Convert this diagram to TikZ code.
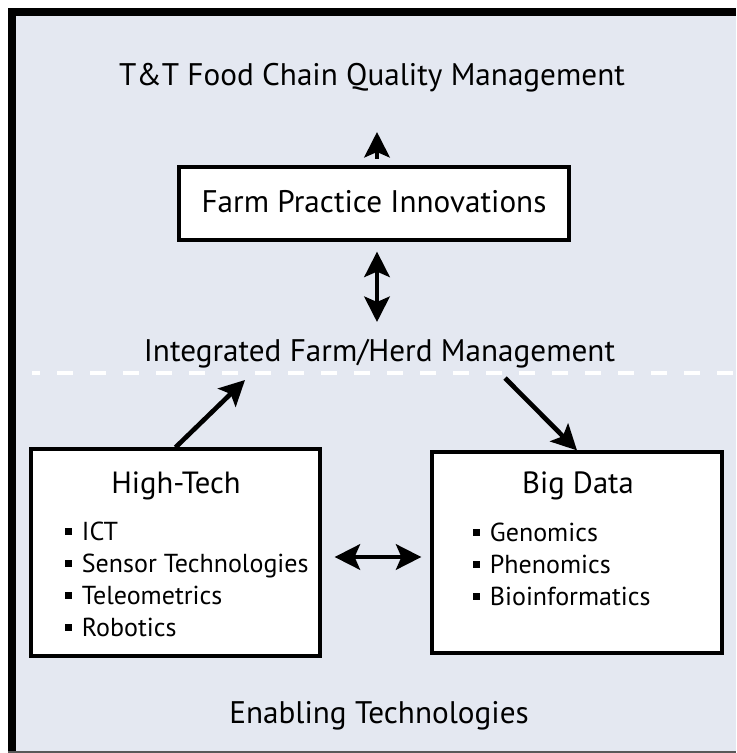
\documentclass[tikz,border=0pt]{standalone}
\usepackage{fontspec}
\setmainfont{PT Sans}
\usetikzlibrary{arrows.meta}
\usetikzlibrary{positioning}
\definecolor{panelfill}{RGB}{228,232,241}
\tikzset{
	% one picture unit is one pixel of the 736x753 layout
	px/.style={x=0.75pt, y=-0.75pt},
	bigarrow/.style={draw=black, line width=3.5pt,
		-{Stealth[length=19pt, width=19pt, inset=4pt]}},
	bigdouble/.style={draw=black, line width=3.5pt,
		{Stealth[length=19pt, width=19pt, inset=4pt]}-{Stealth[length=19pt, width=19pt, inset=4pt]}},
	whitebox/.style={draw=black, fill=white, line width=2.4pt, inner sep=0pt},
	headline/.style={font=\fontsize{23.4}{27}\selectfont, inner sep=0pt, anchor=base},
	boxtitle/.style={font=\fontsize{23}{27}\selectfont, inner sep=0pt, anchor=base},
	item/.style={font=\fontsize{19.5}{23}\selectfont, inner sep=0pt, anchor=base west},
	separator/.style={draw=white, line width=3pt, dash pattern=on 12pt off 12.75pt, dash phase=6pt},
}
\newcommand{\sqbullet}{\rule[4pt]{5pt}{5pt}\hspace{7.5pt}}

\begin{document}
\begin{tikzpicture}[px]
\useasboundingbox (0,0) rectangle (736,753);
	% panel
	\fill[panelfill] (12,12) rectangle (736,753);
	\draw[line width=6pt] (12,753) -- (12,12) -- (736,12);
	\draw[gray!70!black, line width=1.5pt] (8,751.5) -- (736,751.5);
	\draw[separator] (32,372.5) -- (736,372.5);
	% texts and boxes
	\node[headline] (quality) at (372,85) {T\&T Food Chain Quality Management};
	\node[whitebox, minimum width=292.5pt, minimum height=54.75pt] (practice) at (374,203.5) {};
	\node[headline] (practicetxt) at (374,212) {Farm Practice Innovations};
	\node[headline] (herd) at (379.5,361) {Integrated Farm/Herd Management};
	\node[whitebox, minimum width=216.75pt, minimum height=155.25pt] (hightech) at (175.5,552.5) {};
	\node[whitebox, minimum width=217.5pt, minimum height=150.75pt] (bigdata) at (577,552.5) {};
	\node[boxtitle] (hightechtxt) at (176,493) {High-Tech};
	\node[boxtitle] (bigdatatxt) at (578,493) {Big Data};
	\foreach \txt [count=\i] in {ICT, Sensor Technologies, Teleometrics, Robotics}
		\node[item] (ht\i) at (65,{540+32*(\i-1)}) {\sqbullet\txt};
	\foreach \txt [count=\i] in {Genomics, Phenomics, Bioinformatics}
		\node[item] (bd\i) at (473,{541+32*(\i-1)}) {\sqbullet\txt};
	\node[headline] (enabling) at (379,723) {Enabling Technologies};
	% connectors
	\coordinate (herdleft) at (245,380);
	\coordinate (herdright) at (505,378);
	\draw[bigarrow] ([xshift=2.25pt, yshift=5pt]practice.north) -- ([xshift=2.25pt]practice.north |- 0,132);
	\draw[bigdouble] ([xshift=2.25pt, yshift=-7.5pt]practice.south) -- ([xshift=2.25pt]practice.south |- 0,322);
	\draw[bigarrow] (hightech.north) -- (herdleft);
	\draw[bigarrow] (herdright) -- (bigdata.north);
	\draw[bigdouble] ([xshift=9.75pt]hightech.east |- 0,557) -- ([xshift=-6.75pt]bigdata.west |- 0,557);
\end{tikzpicture}
\end{document}
